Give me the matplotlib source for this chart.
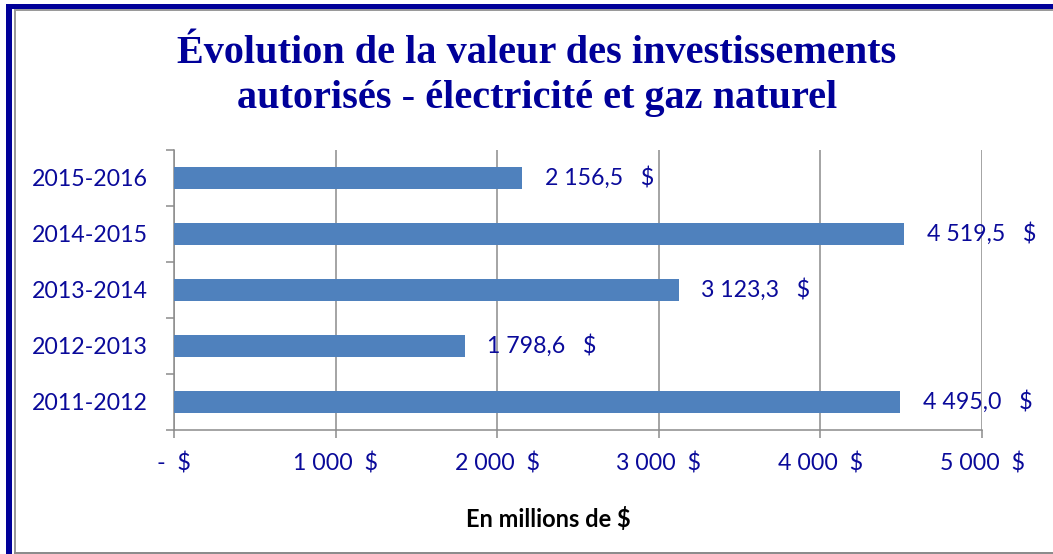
import matplotlib
matplotlib.use("Agg")
import matplotlib.pyplot as plt
from matplotlib.patches import Rectangle
import numpy as np

# data
periodes = ["2011-2012", "2012-2013", "2013-2014", "2014-2015", "2015-2016"]
valeurs = [4495.0, 1798.6, 3123.3, 4519.5, 2156.5]
ticks_x = [0, 1000, 2000, 3000, 4000, 5000]

titre = "Évolution de la valeur des investissements\nautorisés - électricité et gaz naturel"
axe_x = "En millions de $"

bleu_texte = "#0a0a9a"
bleu_barre = "#4f81bd"
gris = "#8c8c8c"

W, H = 1053, 554
fs = 16.7


def fmt_nombre(v, dec=1):
    s = f"{v:,.{dec}f}"
    return s.replace(",", " ").replace(".", ",")


def fmt_tick(v):
    if v == 0:
        return "-  $"
    return fmt_nombre(v, 0) + "  $"


fig = plt.figure(figsize=(W / 100, H / 100), dpi=100)

# cadre du graphique
fig.add_artist(Rectangle((6 / W, 0), 6 / W, (H - 4) / H, transform=fig.transFigure,
                         color="#000099", lw=0))
fig.add_artist(Rectangle((6 / W, (H - 9) / H), (W - 6) / W, 5 / H, transform=fig.transFigure,
                         color="#000099", lw=0))
fig.add_artist(Rectangle((14 / W, 0), 2 / W, (H - 9) / H, transform=fig.transFigure,
                         color="#9a9a9a", lw=0))
fig.add_artist(Rectangle((14 / W, (H - 11) / H), (W - 14) / W, 2 / H, transform=fig.transFigure,
                         color="#9a9a9a", lw=0))
fig.add_artist(Rectangle((14 / W, 0), (W - 14) / W, 2 / H, transform=fig.transFigure,
                         color="#8c8c8c", lw=0))

ax = fig.add_axes([174 / W, (H - 430) / H, (982 - 174) / W, (430 - 150) / H])

y = np.arange(len(periodes))
ax.barh(y, valeurs, height=0.39, color=bleu_barre, zorder=3)

for yi, v in zip(y, valeurs):
    ax.annotate(fmt_nombre(v) + "   $", (v, yi), xytext=(16, 0), textcoords="offset points",
                ha="left", va="center", fontsize=fs, color=bleu_texte, family="Lato", zorder=4)

ax.set_xlim(0, 5000)
ax.set_ylim(-0.5, len(periodes) - 0.5)
ax.set_xticks(ticks_x)
ax.set_xticklabels([fmt_tick(t) for t in ticks_x], fontsize=fs, color=bleu_texte, family="Lato")
ax.set_yticks(y)
ax.set_yticklabels(periodes, fontsize=fs, color=bleu_texte, family="Lato")
ax.set_yticks(np.arange(-0.5, len(periodes)), minor=True)

ax.tick_params(axis="y", which="major", length=0, pad=19)
ax.tick_params(axis="y", which="minor", length=6, width=1.1, color=gris, direction="out")
ax.tick_params(axis="x", length=6, width=1.1, color=gris, direction="out", pad=10)

ax.grid(axis="x", color=gris, lw=1.1, zorder=0)
for s in ["top", "right"]:
    ax.spines[s].set_visible(False)
for s in ["left", "bottom"]:
    ax.spines[s].set_color(gris)
    ax.spines[s].set_linewidth(1.1)

fig.text(537 / W, 1 - 76 / H, titre, ha="center", va="center", fontsize=29, fontweight="bold",
         family="Liberation Serif", color="#000099", linespacing=1.28)
fig.text(548 / W, 1 - 519 / H, axe_x, ha="center", va="center", fontsize=17, fontweight="bold",
         family="Lato", color="black")

fig.savefig("out.png", dpi=100)
